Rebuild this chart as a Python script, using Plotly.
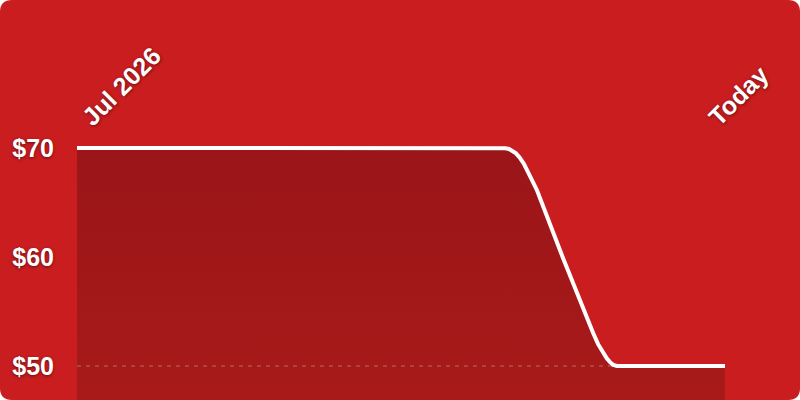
import plotly.graph_objects as go

# price history from Jul 2026 up to today (step = x position)
steps = [0, 1, 2, 3, 4, 5, 6, 7, 7.85, 7.93, 8.0, 8.06, 8.13, 8.2, 8.28, 8.35,
         8.52, 9.0, 9.17, 9.46, 9.56, 9.65, 9.73, 9.81, 9.87, 9.93, 10.0, 11, 12]
prices = [70, 70, 70, 70, 70, 70, 70, 70, 70, 69.97, 69.9, 69.75, 69.5, 69.1,
          68.5, 67.8, 66.1, 59.9, 57.8, 54.1, 53.0, 52.0, 51.3, 50.7, 50.35,
          50.1, 50, 50, 50]
reference_price = 50

x_tick_vals = [0, 11.6]
x_tick_text = ["Jul 2026", "Today"]
y_tick_vals = [50, 60, 70]
y_tick_text = ["$50", "$60", "$70"]

BG_RED = "#c91d1f"
FILL_TOP = "#9b1518"
FILL_BOTTOM = "#a81a1a"
SHADOW = "0px 1px 3px rgba(0,0,0,0.5)"

W, H = 800, 400
M = dict(l=77, r=75, t=137, b=0)
PW = W - M["l"] - M["r"]
PH = H - M["t"] - M["b"]


def px(x):
    """figure pixel x -> paper x"""
    return (x - M["l"]) / PW


def py(y):
    """figure pixel y (from top) -> paper y"""
    return (H - M["b"] - y) / PH


def rounded_rect(r=12):
    return (
        f"M {px(r)} {py(0)} L {px(W - r)} {py(0)} "
        f"Q {px(W)} {py(0)} {px(W)} {py(r)} "
        f"L {px(W)} {py(H - r)} Q {px(W)} {py(H)} {px(W - r)} {py(H)} "
        f"L {px(r)} {py(H)} Q {px(0)} {py(H)} {px(0)} {py(H - r)} "
        f"L {px(0)} {py(r)} Q {px(0)} {py(0)} {px(r)} {py(0)} Z"
    )


fig = go.Figure()

# area under the price
fig.add_trace(
    go.Scatter(
        x=steps,
        y=prices,
        mode="lines",
        line=dict(width=0),
        fill="tozeroy",
        fillgradient=dict(
            type="vertical",
            colorscale=[[0, FILL_BOTTOM], [1, FILL_TOP]],
            start=46.9,
            stop=70,
        ),
        hoverinfo="skip",
        showlegend=False,
    )
)

# dashed reference at the lowest price
fig.add_trace(
    go.Scatter(
        x=[steps[0], steps[-1]],
        y=[reference_price, reference_price],
        mode="lines",
        line=dict(color="rgba(190,190,190,0.35)", width=1.5, dash="4px,5px"),
        hoverinfo="skip",
        showlegend=False,
    )
)

# price line
fig.add_trace(
    go.Scatter(
        x=steps,
        y=prices,
        mode="lines",
        line=dict(color="white", width=4),
        showlegend=False,
    )
)

fig.add_shape(
    type="path",
    path=rounded_rect(),
    xref="paper",
    yref="paper",
    fillcolor=BG_RED,
    line=dict(width=0),
    layer="below",
)

fig.update_layout(
    width=W,
    height=H,
    margin=M,
    paper_bgcolor="white",
    plot_bgcolor="rgba(0,0,0,0)",
    font=dict(family="Liberation Sans, Arial, sans-serif", color="white"),
    xaxis=dict(
        side="top",
        range=[0, 12],
        tickvals=x_tick_vals,
        ticktext=x_tick_text,
        tickangle=-45,
        ticklabelshift=7,
        tickfont=dict(size=25, weight="bold", shadow=SHADOW),
        showgrid=False,
        zeroline=False,
        showline=False,
        ticks="",
    ),
    yaxis=dict(
        range=[46.88, 71.0],
        tickvals=y_tick_vals,
        ticktext=y_tick_text,
        tickfont=dict(size=25, weight="bold", shadow=SHADOW),
        ticklabelstandoff=22,
        showgrid=False,
        zeroline=False,
        showline=False,
        ticks="",
    ),
)

fig.write_html(
    "out.html",
    config={"displayModeBar": False},
    post_script="document.body.style.margin='0px';",
)
